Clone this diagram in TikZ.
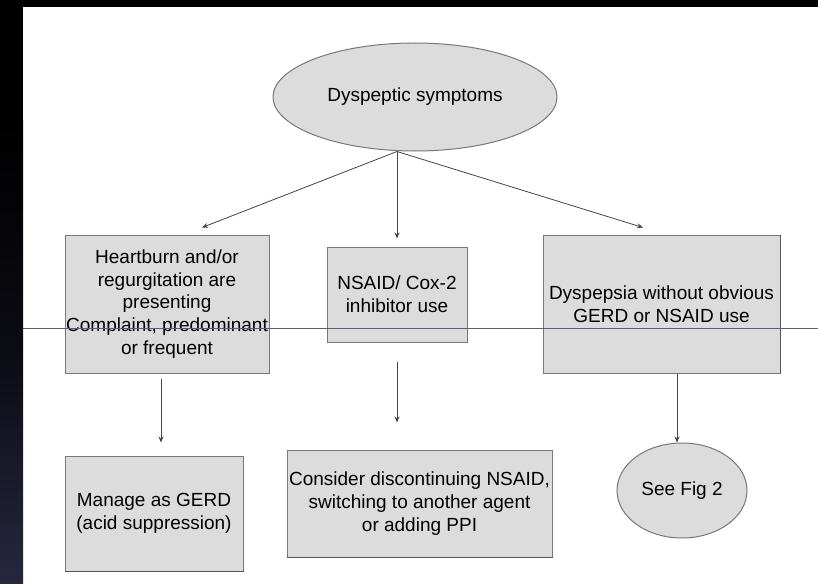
\documentclass[tikz,border=0pt]{standalone}
\usepackage{fontspec}
\setmainfont{Liberation Sans}
\usetikzlibrary{arrows.meta,shapes.geometric,calc}
\definecolor{boxfill}{HTML}{DCDCDC}
\definecolor{boxline}{HTML}{787878}
\definecolor{edgedark}{HTML}{555555}
\definecolor{arrline}{HTML}{454545}
\definecolor{slideline}{HTML}{5E5E72}
\definecolor{navy}{HTML}{262640}
\tikzset{
  box/.style={draw=boxline, fill=boxfill, line width=1pt, rectangle, inner sep=0pt, align=center, font=\fontsize{19}{22.8}\selectfont},
  oval/.style={draw=boxline, fill=boxfill, line width=1pt, ellipse, inner sep=0pt, align=center, font=\fontsize{19}{22.8}\selectfont},
  arr/.style={draw=arrline, line width=0.8pt, -{Stealth[length=6pt,width=5pt]}},
  darkedge/.style={draw=edgedark, line width=1.8pt}
}
\begin{document}
\begin{tikzpicture}[x=1pt,y=-1pt]
\useasboundingbox (0,0) rectangle (818,583);
\fill[black] (0,0) rectangle (818,583);
\fill[white] (23,7) rectangle (818,583);
\shade[top color=black, bottom color=navy, middle color=black!70!navy] (0,120) rectangle (23,583);
\fill[black] (0,0) rectangle (23,120);

\node[oval, minimum width=284pt, minimum height=108pt] (E) at (415,97) {Dyspeptic symptoms};
\node[box, minimum width=204pt, minimum height=138pt] (L) at (167,304) {Heartburn and/or\\regurgitation are\\presenting\\Complaint, predominant\\or frequent};
\node[box, minimum width=140pt, minimum height=95pt] (C) at (397,294.5) {NSAID/ Cox-2\\inhibitor use};
\node[box, minimum width=237pt, minimum height=138pt] (R) at (661.5,304) {Dyspepsia without obvious\\GERD or NSAID use};
\node[box, minimum width=178pt, minimum height=115pt] (M) at (154,513.5) {Manage as GERD\\(acid suppression)};
\node[box, minimum width=265pt, minimum height=107pt] (K) at (419.5,503.5) {Consider discontinuing NSAID,\\switching to another agent\\or adding PPI};
\node[oval, minimum width=130pt, minimum height=95pt] (F) at (682,490.5) {See Fig 2};

\draw[darkedge] (R.north east) -- (R.south east);
\draw[darkedge] (M.south west) -- (M.south east);
\draw[darkedge] (K.south west) -- (K.south east);

\coordinate (S) at (E.south -| C.north);
\draw[arr] (S) -- ($(L.north)+(35,-7)$);
\draw[arr] (S) -- ($(C.north)+(0,-8)$);
\draw[arr] (S) -- ($(R.north)+(-18.5,-7)$);

\draw[arr] ($(L.south)+(-6,5)$) -- ($(M.north)+(7,-13)$);
\draw[arr] ($(C.south)+(0,19)$) -- ($(C.south |- K.north)+(0,-27)$);
\draw[arr] ($(R.south)+(15.5,0)$) -- ($(F.north)+(-5,0)$);

\draw[slideline, line width=0.8pt] (23,328) -- (818,328);
\end{tikzpicture}
\end{document}
